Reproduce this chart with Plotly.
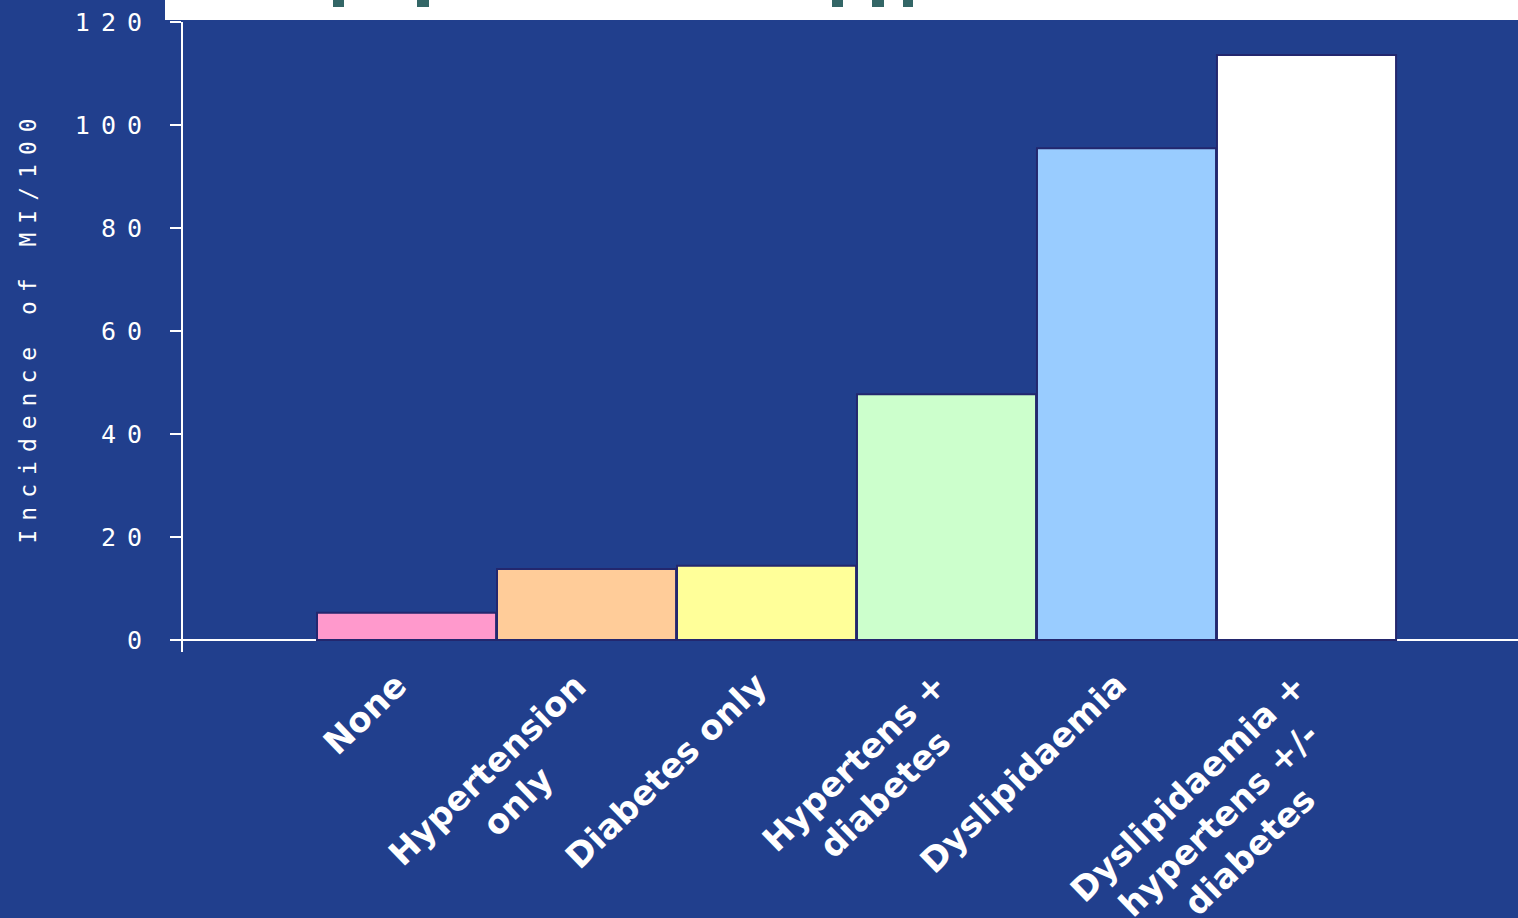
import math
import plotly.graph_objects as go

# Incidence of myocardial infarction by risk-factor group
categories = [
    "None",
    "Hypertension<br>only",
    "Diabetes only",
    "Hypertens +<br>diabetes",
    "Dyslipidaemia",
    "Dyslipidaemia +<br>hypertens +/-<br>diabetes",
]
incidence = [5.3, 13.8, 14.4, 47.7, 95.5, 113.6]
bar_colors = ["#ff99cc", "#ffcc99", "#ffff99", "#ccffcc", "#99ccff", "#ffffff"]
y_ticks = [0, 20, 40, 60, 80, 100, 120]
y_title = "Incidence of MI/100"

# page / plot-area geometry (pixels)
W, H = 1518, 918
PL, PR, PT, PB = 183, 1518, 22, 652
BG = "#213f8d"

LABEL_SIZE = 34
LABEL_ANGLE = 44


def px_x(x):
    return (x - PL) / (PR - PL)


def px_y(y):
    return (PB - y) / (PB - PT)


fig = go.Figure()
fig.add_trace(
    go.Bar(
        x=categories,
        y=incidence,
        marker=dict(color=bar_colors, line=dict(color="#23276e", width=2)),
        hoverinfo="x+y",
    )
)

# rotated, centre-aligned category labels: the end of the first line sits
# under the bar centre, so multi-line blocks are pushed right by the extra
# lines' projected height
annotations = []
line_h = 1.3 * LABEL_SIZE
for cat in categories:
    n_lines = cat.count("<br>") + 1
    shift = 10 + (n_lines - 1) * line_h * math.sin(math.radians(LABEL_ANGLE))
    annotations.append(
        dict(
            x=cat, xref="x", y=px_y(662), yref="paper",
            text=cat, showarrow=False, textangle=-LABEL_ANGLE,
            xanchor="right", yanchor="top", align="center", xshift=shift,
            font=dict(family="DejaVu Sans", size=LABEL_SIZE, color="white",
                      weight="bold"),
        )
    )

# vertical axis title
annotations.append(
    dict(
        x=px_x(28), xref="paper", y=px_y(327), yref="paper",
        text=y_title, showarrow=False, textangle=-90,
        xanchor="center", yanchor="middle",
        font=dict(family="DejaVu Sans Mono", size=23, color="white"),
    )
)

# white title band along the top edge, with the clipped glyph tails
shapes = [
    dict(type="rect", xref="paper", yref="paper",
         x0=px_x(165), x1=px_x(1518), y0=px_y(20), y1=px_y(0),
         fillcolor="white", line=dict(width=0), layer="above")
]
for x0, x1 in [(333, 344), (417, 429), (832, 843), (872, 884), (903, 913)]:
    shapes.append(
        dict(type="rect", xref="paper", yref="paper",
             x0=px_x(x0), x1=px_x(x1), y0=px_y(7), y1=px_y(0),
             fillcolor="#336666", line=dict(width=0), layer="above")
    )

fig.update_layout(
    width=W, height=H,
    margin=dict(l=PL, r=W - PR, t=PT, b=H - PB, pad=0),
    paper_bgcolor=BG, plot_bgcolor=BG,
    bargap=0.005,
    showlegend=False,
    annotations=annotations,
    shapes=shapes,
    xaxis=dict(
        type="category",
        range=[-1.242, 6.175],
        showline=False, showgrid=False, zeroline=False,
        showticklabels=False, ticks="",
        fixedrange=True,
    ),
    yaxis=dict(
        range=[-2.33, 120],
        tickvals=y_ticks,
        showgrid=False,
        showline=True, linecolor="white", linewidth=2,
        zeroline=True, zerolinecolor="white", zerolinewidth=2,
        ticks="outside", ticklen=11, tickwidth=2, tickcolor="white",
        tickfont=dict(family="DejaVu Sans Mono", size=25, color="white"),
        ticklabelstandoff=12,
        layer="above traces",
        fixedrange=True,
    ),
)

# wide letter spacing for the monospaced axis text
spacing_css = (
    "var s=document.createElement('style');"
    "s.textContent='text[style*=\"Mono\"]{letter-spacing:9px;}"
    " .ytick text{letter-spacing:11px;}';"
    "document.head.appendChild(s);"
)

fig.write_html("out.html", post_script=spacing_css, config={"displayModeBar": False})
